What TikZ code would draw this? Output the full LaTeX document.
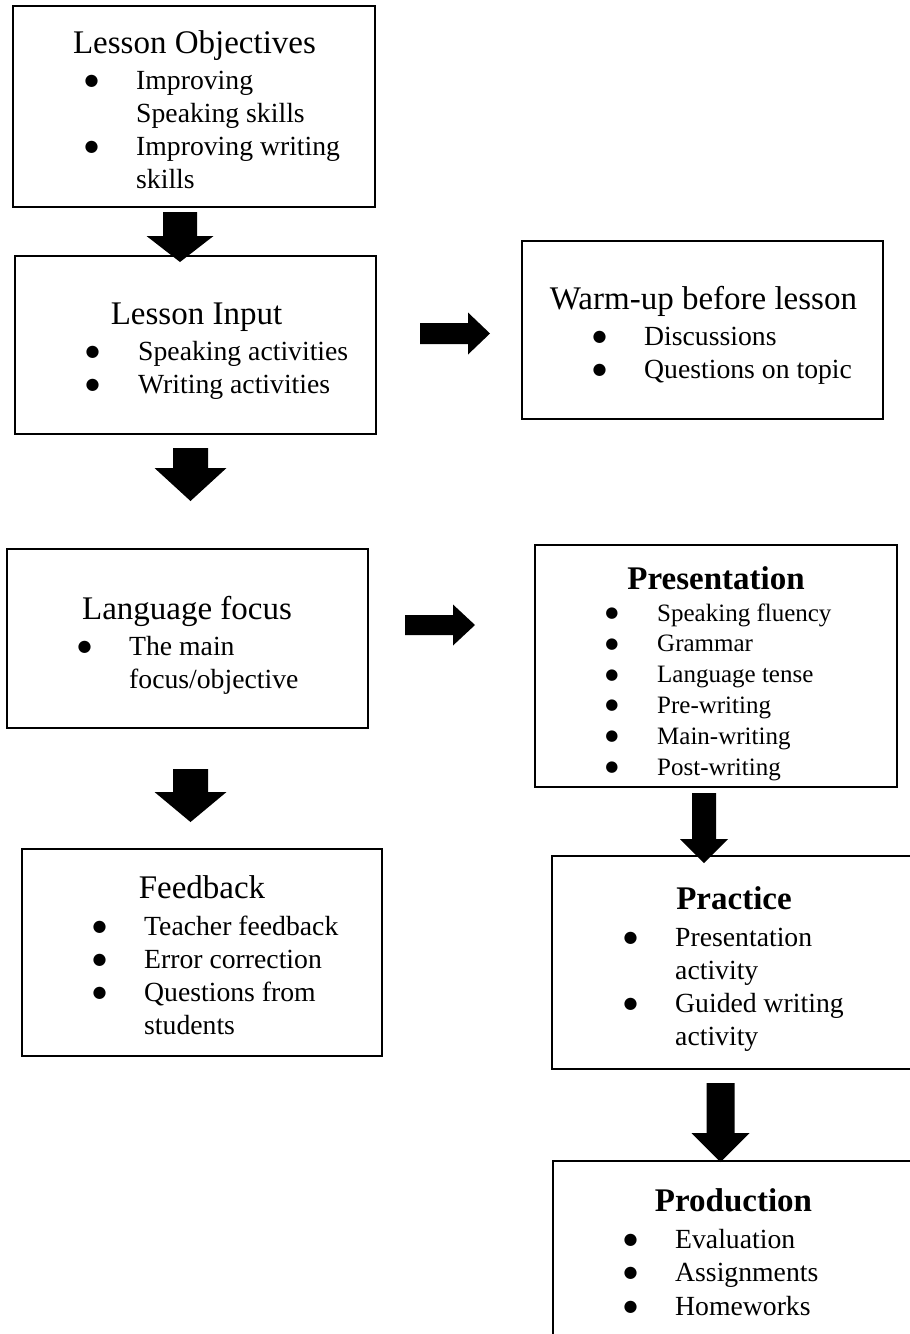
\documentclass[tikz,border=0pt]{standalone}
\usepackage{fontspec}
\setmainfont{Liberation Serif}
\newfontfamily\symfont{DejaVu Sans}
\newcommand\dnblk[6]{\fill[black] ({#1-#3},#2) -- ({#1+#3},#2) -- ({#1+#3},#5) -- ({#1+#4},#5) -- (#1,#6) -- ({#1-#4},#5) -- ({#1-#3},#5) -- cycle;}
\newcommand\rtblk[6]{\fill[black] (#2,{#1-#3}) -- (#2,{#1+#3}) -- (#5,{#1+#3}) -- (#5,{#1+#4}) -- (#6,#1) -- (#5,{#1-#4}) -- (#5,{#1-#3}) -- cycle;}
\newcommand\bul{\hspace*{-2.5pt}\raisebox{4pt}{\symfont\fontsize{16}{20}\selectfont ●}}
\newcommand\sbul{\hspace*{-2.5pt}\raisebox{3.5pt}{\symfont\fontsize{15}{20}\selectfont ●}}
\begin{document}
\begin{tikzpicture}[x=1pt,y=-1pt,
  box/.style={draw, line width=2.7pt, anchor=north west, inner sep=0pt, outer sep=0pt},
  ttl/.style={anchor=base, inner sep=0pt, font=\fontsize{33}{38}\selectfont},
  btl/.style={anchor=base, inner sep=0pt, font=\fontsize{33}{38}\selectfont\bfseries},
  lst/.style={anchor=base west, inner sep=0pt, font=\fontsize{27.7}{33}\selectfont},
  slst/.style={anchor=base west, inner sep=0pt, font=\fontsize{25}{30.8}\selectfont}]
\useasboundingbox (0,0) rectangle (910,1334);
\clip (0,0) rectangle (910,1334);

% boxes
\node[box, minimum width=362, minimum height=201] (lo) at (13,6) {};
\node[box, minimum width=361, minimum height=178] (li) at (15,256) {};
\node[box, minimum width=361, minimum height=178] (wu) at (522,241) {};
\node[box, minimum width=361, minimum height=179] (lf) at (7,549) {};
\node[box, minimum width=362, minimum height=242] (pr) at (535,545) {};
\node[box, minimum width=360, minimum height=207] (fb) at (22,849) {};
\node[box, minimum width=400, minimum height=213] (pc) at (552,856) {};
\node[box, minimum width=400, minimum height=200] (pd) at (553,1161) {};

% titles
\node[ttl] (lo-t) at (194.5,53) {Lesson Objectives};
\node[ttl] (li-t) at (196.5,324) {Lesson Input};
\node[ttl] (wu-t) at (703.5,309) {Warm-up before lesson};
\node[ttl] (lf-t) at (187,619) {Language focus};
\node[btl] (pr-t) at (716,589) {Presentation};
\node[ttl] (fb-t) at (202,898) {Feedback};
\node[btl] (pc-t) at (734,909) {Practice};
\node[btl] (pd-t) at (733.5,1211) {Production};

% lists
\node[lst] (lo-l) at (87,89) {\begin{tabular}[t]{@{}p{49pt}@{}l@{}}\bul&Improving\\&Speaking skills\\\bul&Improving writing\\&skills\end{tabular}};
\node[lst] (li-l) at (88,360) {\begin{tabular}[t]{@{}p{50pt}@{}l@{}}\bul&Speaking activities\\\bul&Writing activities\end{tabular}};
\node[lst] (wu-l) at (595,345) {\begin{tabular}[t]{@{}p{49pt}@{}l@{}}\bul&Discussions\\\bul&Questions on topic\end{tabular}};
\node[lst] (lf-l) at (80,655) {\begin{tabular}[t]{@{}p{49pt}@{}l@{}}\bul&The main\\&focus/objective\end{tabular}};
\node[slst] (pr-l) at (607.6,621) {\begin{tabular}[t]{@{}p{49.4pt}@{}l@{}}\sbul&Speaking fluency\\\sbul&Grammar\\\sbul&Language tense\\\sbul&Pre-writing\\\sbul&Main-writing\\\sbul&Post-writing\end{tabular}};
\node[lst] (fb-l) at (95,935) {\begin{tabular}[t]{@{}p{49pt}@{}l@{}}\bul&Teacher feedback\\\bul&Error correction\\\bul&Questions from\\&students\end{tabular}};
\node[lst] (pc-l) at (626,946) {\begin{tabular}[t]{@{}p{49pt}@{}l@{}}\bul&Presentation\\&activity\\\bul&Guided writing\\&activity\end{tabular}};
\node[lst, font=\fontsize{27.7}{33.5}\selectfont] (pd-l) at (626,1248) {\begin{tabular}[t]{@{}p{49pt}@{}l@{}}\bul&Evaluation\\\bul&Assignments\\\bul&Homeworks\end{tabular}};

% block arrows
\dnblk{180}{212}{17}{33.5}{236}{262}
\rtblk{333.5}{420}{10.5}{21}{468}{490}
\dnblk{190.5}{448}{17.5}{36}{468}{501}
\rtblk{625}{405}{10}{20.5}{453}{475}
\dnblk{190.5}{769}{17.5}{36}{792}{822}
\dnblk{704}{793}{12}{24}{839}{863}
\dnblk{720.5}{1083}{14}{29}{1133}{1162}
\end{tikzpicture}
\end{document}
